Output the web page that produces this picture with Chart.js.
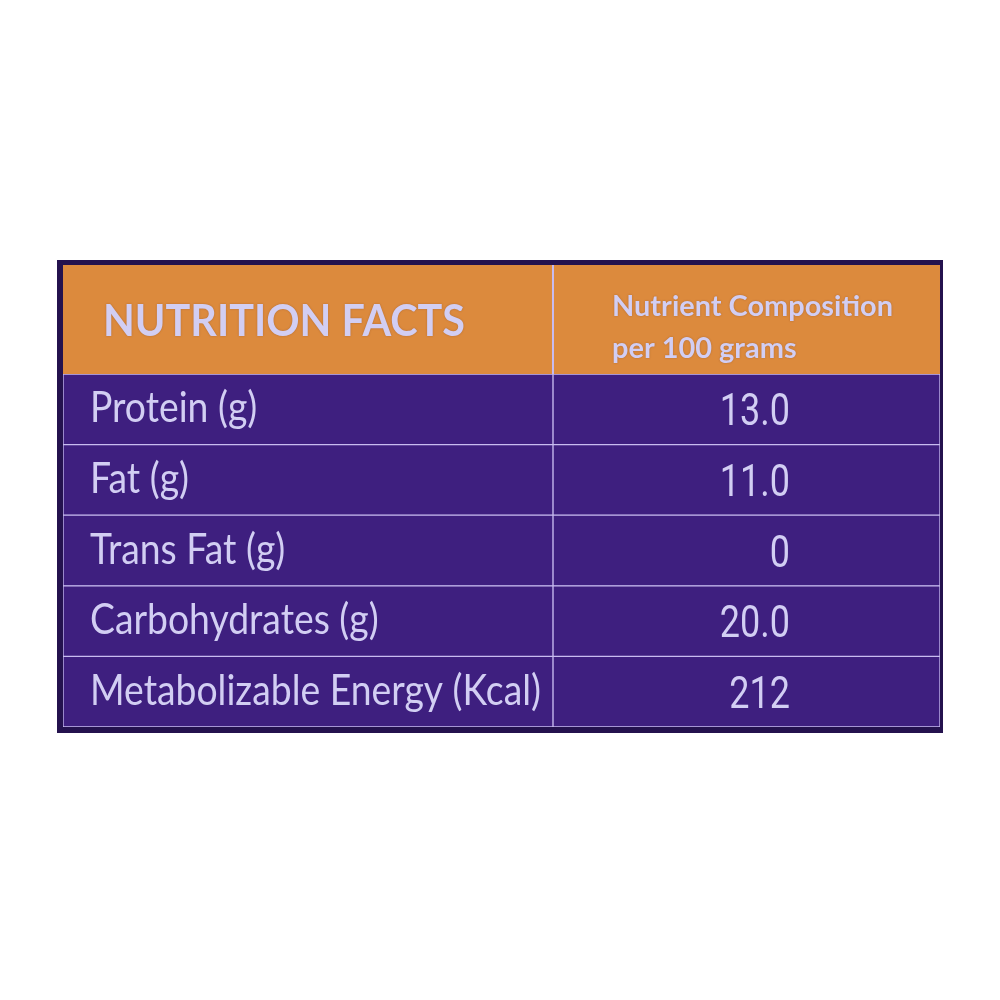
<!DOCTYPE html>
<html>
<head>
<meta charset="utf-8">
<title>Nutrition Facts</title>
<script src="https://cdn.jsdelivr.net/npm/chart.js@4.4.1/dist/chart.umd.min.js"></script>
<style>
  html, body { margin: 0; padding: 0; background: #ffffff; }
  #wrap { width: 1000px; height: 1000px; position: relative; }
</style>
</head>
<body>
<div id="wrap"><canvas id="facts"></canvas></div>
<script>
// table content
const nutrients = ["Protein (g)", "Fat (g)", "Trans Fat (g)", "Carbohydrates (g)", "Metabolizable Energy (Kcal)"];
const amounts = [13.0, 11.0, 0, 20.0, 212];
const amountDigits = [1, 1, 0, 1, 0];
const headers = ["NUTRITION FACTS", ["Nutrient Composition", "per 100 grams"]];

const ORANGE = "#dc8a3d";
const PURPLE = "#3e1f7f";
const FRAME = "#24124e";
const LINE = "#c8bcf0";
const INK = "#d2cef3";

const SPLIT = 0.5587;      // label column share of the table width
const VALUE_RIGHT = 0.829; // right edge of the amount text
const HEAD_RIGHT = 0.626;  // left edge of the right header text
const HEADER_H = 109;

function drawFitted(ctx, text, x, y, font, width, align) {
  ctx.save();
  ctx.font = font;
  const w = ctx.measureText(text).width;
  const sx = width ? width / w : 1;
  ctx.translate(x, y);
  ctx.scale(sx, 1);
  ctx.textAlign = align || "left";
  ctx.textBaseline = "alphabetic";
  ctx.fillText(text, 0, 0);
  ctx.restore();
}

function squeeze(ctx, font, text, width) {
  ctx.save();
  ctx.font = font;
  const s = width / ctx.measureText(text).width;
  ctx.restore();
  return s;
}

const tablePlugin = {
  id: "tablePlugin",
  beforeDatasetsDraw(chart) {
    const { ctx, chartArea } = chart;
    const x = chart.scales.x;
    const top = chartArea.top - HEADER_H;

    // dark outer frame
    ctx.save();
    ctx.fillStyle = FRAME;
    ctx.fillRect(chartArea.left - 6, top - 5, chartArea.width + 9, chartArea.bottom - top + 11);

    // header band
    ctx.fillStyle = ORANGE;
    ctx.fillRect(chartArea.left, top, chartArea.width, HEADER_H);
    ctx.fillStyle = LINE;
    ctx.fillRect(x.getPixelForValue(SPLIT) - 1, top, 2, HEADER_H);
    ctx.restore();
  },
  afterDatasetsDraw(chart) {
    const { ctx, chartArea } = chart;
    const x = chart.scales.x;
    const y = chart.scales.y;
    const top = chartArea.top - HEADER_H;
    const mid = top + HEADER_H / 2;

    ctx.save();
    ctx.fillStyle = INK;
    ctx.shadowColor = "rgba(90,50,40,0.35)";
    ctx.shadowBlur = 2;
    drawFitted(ctx, headers[0], chartArea.left + 40, mid + 16, "700 44px Lato", 362);
    const hx = x.getPixelForValue(HEAD_RIGHT);
    const headFont = "700 28px Lato";
    const hs = squeeze(ctx, headFont, headers[1][0], 281);
    headers[1].forEach((line, i) => {
      ctx.save();
      ctx.font = headFont;
      ctx.translate(hx, mid - 4 + i * 42);
      ctx.scale(hs, 1);
      ctx.fillText(line, 0, 0);
      ctx.restore();
    });
    ctx.restore();

    ctx.save();
    ctx.fillStyle = INK;
    const rowFont = "400 43px Lato";
    const longest = nutrients.reduce((a, b) => (a.length > b.length ? a : b));
    const rs = squeeze(ctx, rowFont, longest, 451);
    const valFont = "400 45px Roboto";
    nutrients.forEach((name, i) => {
      const cy = y.getPixelForValue(i);
      ctx.save();
      ctx.font = rowFont;
      ctx.translate(chartArea.left + 27, cy + 13);
      ctx.scale(rs, 1);
      ctx.fillText(name, 0, 0);
      ctx.restore();

      ctx.save();
      ctx.font = valFont;
      ctx.textAlign = "right";
      ctx.translate(x.getPixelForValue(VALUE_RIGHT), cy + 16);
      ctx.scale(0.8, 1);
      ctx.fillText(amounts[i].toFixed(amountDigits[i]), 0, 0);
      ctx.restore();
    });
    ctx.restore();
  }
};

new Chart(document.getElementById("facts"), {
  type: "bar",
  data: {
    labels: nutrients,
    datasets: [
      {
        label: "Nutrient",
        data: nutrients.map(() => [0, SPLIT]),
        backgroundColor: PURPLE,
        borderColor: LINE,
        borderWidth: 1,
        borderSkipped: false,
        barPercentage: 1,
        categoryPercentage: 1,
        grouped: false,
      },
      {
        label: "Per 100 g",
        data: amounts.map(() => [SPLIT, 1]),
        backgroundColor: PURPLE,
        borderColor: LINE,
        borderWidth: 1,
        borderSkipped: false,
        barPercentage: 1,
        categoryPercentage: 1,
        grouped: false,
      },
    ],
  },
  options: {
    indexAxis: "y",
    responsive: true,
    maintainAspectRatio: false,
    animation: false,
    events: [],
    layout: { padding: { left: 63, right: 60, top: 374, bottom: 273 } },
    scales: {
      x: { type: "linear", min: 0, max: 1, display: false },
      y: { type: "category", display: false, offset: true },
    },
    plugins: {
      legend: { display: false },
      tooltip: { enabled: false },
    },
  },
  plugins: [tablePlugin],
});
</script>
</body>
</html>
